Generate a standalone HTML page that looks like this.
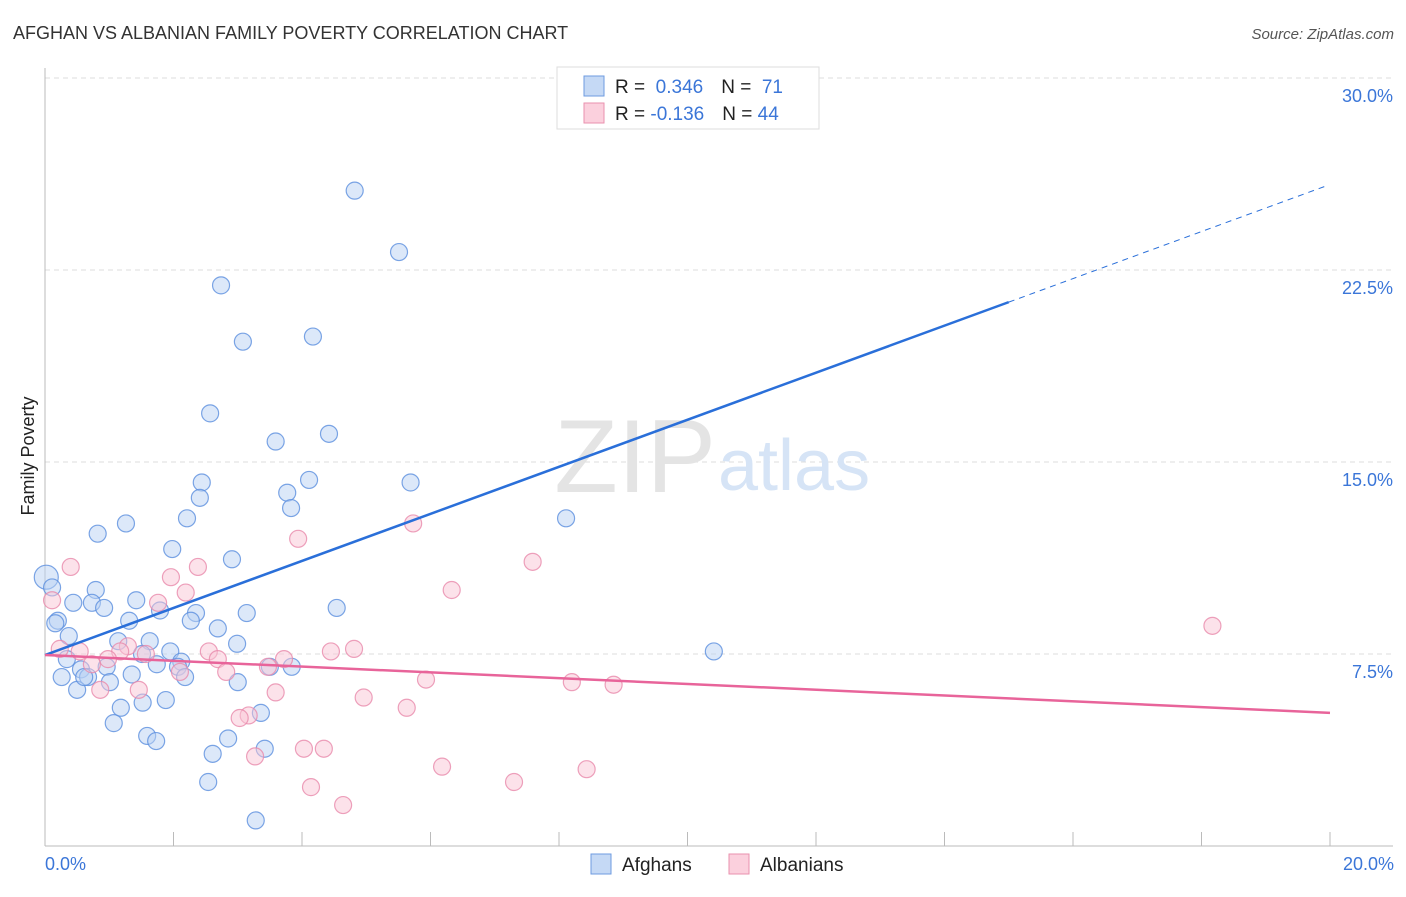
<!DOCTYPE html>
<html><head><meta charset="utf-8">
<style>
body{margin:0;background:#fff;font-family:"Liberation Sans",sans-serif;}
svg text{font-family:"Liberation Sans",sans-serif;}
</style></head>
<body>
<svg width="1406" height="892" xmlns="http://www.w3.org/2000/svg">
<text x="13" y="39" font-size="18" fill="#333">AFGHAN VS ALBANIAN FAMILY POVERTY CORRELATION CHART</text>
<text x="1394" y="39" font-size="15" fill="#555" font-style="italic" text-anchor="end">Source: ZipAtlas.com</text>
<g id="grid"></g>
<text x="716" y="492" font-size="104" fill="#e4e4e4" text-anchor="end" font-family="Liberation Serif">ZIP</text>
<text x="718" y="490" font-size="72" fill="#d6e4f6">atlas</text>
<g id="marks"></g>
<text x="34" y="456" font-size="18" fill="#222" text-anchor="middle" transform="rotate(-90 34 456)">Family Poverty</text>
<text x="45" y="870" font-size="18" fill="#3b76d8">0.0%</text>
<text x="1394" y="870" font-size="18" fill="#3b76d8" text-anchor="end">20.0%</text>
<g>
<rect x="557" y="67" width="262" height="62" fill="#fff" stroke="#ddd"/>
<rect x="584" y="76" width="20" height="20" fill="#c5d9f5" stroke="#6e9be0"/>
<rect x="584" y="103" width="20" height="20" fill="#fbd0dd" stroke="#e991ae"/>
<text x="615" y="93" font-size="19" fill="#222">R = <tspan fill="#3b76d8">&#160;0.346</tspan><tspan dx="18">N = </tspan><tspan fill="#3b76d8">&#160;71</tspan></text>
<text x="615" y="120" font-size="19" fill="#222">R = <tspan fill="#3b76d8">-0.136</tspan><tspan dx="18">N = </tspan><tspan fill="#3b76d8">44</tspan></text>
</g>
<g>
<rect x="591" y="854" width="20" height="20" fill="#c5d9f5" stroke="#6e9be0"/>
<text x="622" y="871" font-size="19" fill="#222">Afghans</text>
<rect x="729" y="854" width="20" height="20" fill="#fbd0dd" stroke="#e991ae"/>
<text x="760" y="871" font-size="19" fill="#222">Albanians</text>
</g>
</svg>
<script>
const yTicks=[7.5,15.0,22.5,30.0];
const xTickCount=10;
const afghanX=[4.82,5.51,2.74,3.08,4.17,2.57,3.59,4.42,4.11,5.69,2.44,2.41,3.77,3.83,2.21,1.26,0.82,8.11,1.98,2.91,0.02,0.11,0.79,0.44,0.73,1.42,0.92,1.79,2.35,3.14,4.54,0.20,0.16,1.31,2.27,2.69,0.37,1.14,1.63,2.99,1.95,1.51,0.34,2.12,1.74,2.07,0.96,10.41,3.50,3.84,0.56,0.26,1.35,0.67,2.18,1.01,3.00,0.50,1.88,1.52,1.18,3.36,1.07,1.59,1.73,2.85,2.61,3.42,2.54,3.28,0.61];
const afghanY=[25.6,23.2,21.9,19.7,19.9,16.9,15.8,16.1,14.3,14.2,14.2,13.6,13.8,13.2,12.8,12.6,12.2,12.8,11.6,11.2,10.5,10.1,10.0,9.5,9.5,9.6,9.3,9.2,9.1,9.1,9.3,8.8,8.7,8.8,8.8,8.5,8.2,8.0,8.0,7.9,7.6,7.5,7.3,7.2,7.1,7.0,7.0,7.6,7.0,7.0,6.9,6.6,6.7,6.6,6.6,6.4,6.4,6.1,5.7,5.6,5.4,5.2,4.8,4.3,4.1,4.2,3.6,3.8,2.5,1.0,6.6];
const albanianX=[0.40,0.11,2.38,1.96,2.19,1.76,3.94,5.73,7.59,6.33,18.17,0.23,0.54,1.29,1.17,1.57,0.98,0.73,2.55,2.69,4.45,4.81,3.72,3.47,2.82,2.10,5.93,8.20,8.85,0.86,1.46,3.59,4.96,5.63,3.17,3.03,3.27,4.03,4.34,6.18,8.43,7.30,4.14,4.64];
const albanianY=[10.9,9.6,10.9,10.5,9.9,9.5,12.0,12.6,11.1,10.0,8.6,7.7,7.6,7.8,7.6,7.5,7.3,7.1,7.6,7.3,7.6,7.7,7.3,7.0,6.8,6.8,6.5,6.4,6.3,6.1,6.1,6.0,5.8,5.4,5.1,5.0,3.5,3.8,3.8,3.1,3.0,2.5,2.3,1.6];
const afghanTrend=[7.46,0.919]; // intercept, slope
const albanianTrend=[7.46,-0.113];
const X0=45,X1=1330,Y0=846,PX=(X1-X0)/20,PY=25.6;
const sx=v=>X0+v*PX, sy=v=>Y0-v*PY;
const NS="http://www.w3.org/2000/svg";
function mk(parent,tag,attrs){const e=document.createElementNS(NS,tag);for(const k in attrs)e.setAttribute(k,attrs[k]);parent.appendChild(e);return e;}
const grid=document.getElementById('grid'),marks=document.getElementById('marks');
yTicks.forEach(t=>{
 const l=mk(grid,'line',{x1:X0,x2:1393,y1:sy(t),y2:sy(t),stroke:'#ddd','stroke-dasharray':'5,4'});
 
 
 const tx=mk(grid,'text',{x:1393,y:sy(t)+24,'font-size':18,fill:'#3b76d8','text-anchor':'end'});
 tx.textContent=t.toFixed(1)+'%';
 
 
});
mk(grid,'line',{x1:X0,x2:X0,y1:68,y2:Y0,stroke:'#bbb'});
mk(grid,'line',{x1:X0,x2:1393,y1:Y0,y2:Y0,stroke:'#bbb'});
for(let i=0;i<=xTickCount;i++){const x=sx(i*20/xTickCount);
 const tk=mk(grid,'line',{x1:x,x2:x,y1:Y0-14,y2:Y0,stroke:'#bbb'});
 
 }
function pts(xs,ys,fill,stroke,name){xs.forEach((v,i)=>{
 const r=(name==='afghan-point'&&i===20)?12:8.5;
 const c=mk(marks,'circle',{cx:sx(v),cy:sy(ys[i]),r:r,fill:fill,'fill-opacity':0.5,stroke:stroke,'stroke-width':1.2,'stroke-opacity':0.8});
 
 });}
pts(afghanX,afghanY,'#b9d2f4','#5b8fdf','afghan-point');
pts(albanianX,albanianY,'#f9c5d5','#e88aab','albanian-point');
const bl=mk(marks,'line',{x1:sx(0),y1:sy(afghanTrend[0]),x2:sx(15),y2:sy(afghanTrend[0]+15*afghanTrend[1]),stroke:'#2a6fd9','stroke-width':2.5});


const bd=mk(marks,'line',{x1:sx(15),y1:sy(afghanTrend[0]+15*afghanTrend[1]),x2:sx(19.95),y2:sy(afghanTrend[0]+19.95*afghanTrend[1]),stroke:'#2a6fd9','stroke-width':1,'stroke-dasharray':'6,5'});


const pl=mk(marks,'line',{x1:sx(0),y1:sy(albanianTrend[0]),x2:sx(20),y2:sy(albanianTrend[0]+20*albanianTrend[1]),stroke:'#e8649a','stroke-width':2.5});


</script>
</body></html>
